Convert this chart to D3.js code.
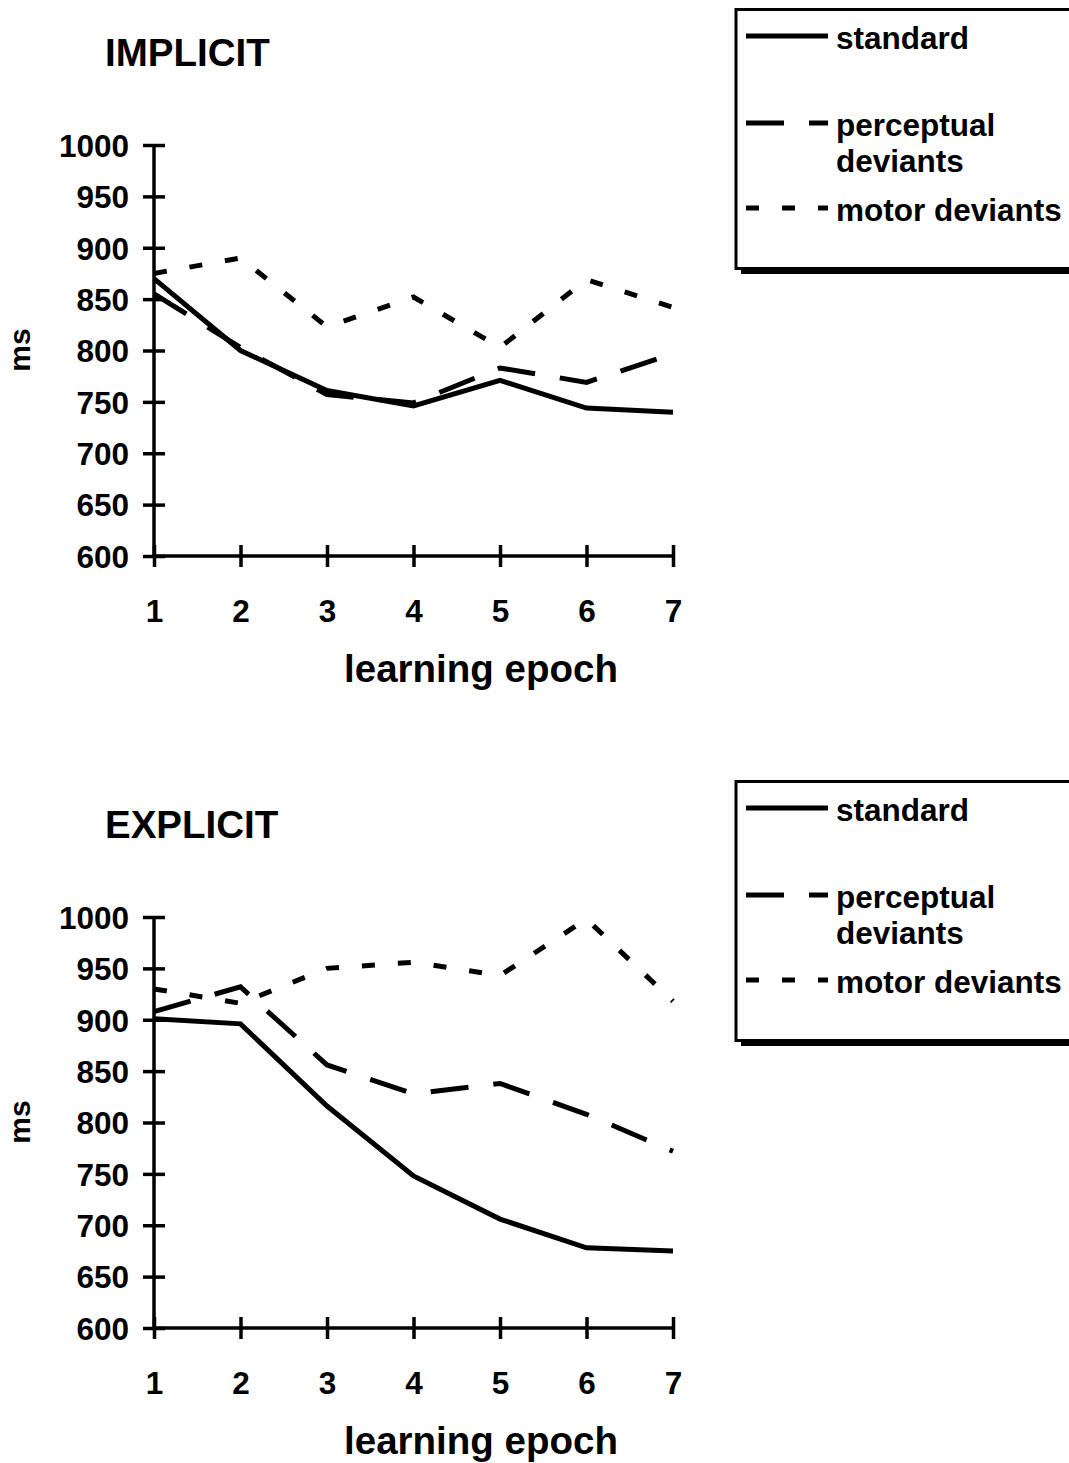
<!DOCTYPE html>
<html>
<head>
<meta charset="utf-8">
<script src="https://cdn.jsdelivr.net/npm/d3@7"></script>
<style>
  html, body { margin: 0; padding: 0; background: #fff; }
  svg { display: block; }
  text { font-family: "Liberation Sans", Arial, sans-serif; font-weight: bold; fill: #000; }
</style>
</head>
<body>
<svg id="chart" width="1069" height="1463"></svg>
<script>
// Learning epochs on the x axis
const epochs = [1, 2, 3, 4, 5, 6, 7];
const yTicks = [600, 650, 700, 750, 800, 850, 900, 950, 1000];

// Mean reaction times (ms), implicit condition
const implicitStandard   = [870, 800, 761, 746, 771, 744, 740];
const implicitPerceptual = [855, 803, 757, 749, 783, 769, 797];
const implicitMotor      = [875, 890, 823, 852, 803, 869, 842];

// Mean reaction times (ms), explicit condition
const explicitStandard   = [901, 896, 816, 748, 706, 678, 675];
const explicitPerceptual = [908, 932, 856, 828, 838, 808, 772];
const explicitMotor      = [930, 916, 950, 956, 943, 998, 918];

const seriesNames = ["standard", "perceptual deviants", "motor deviants"];

const svg = d3.select("#chart");

// Line styles per series: solid, long dash, short dash
const styles = [
  { dash: null },
  { dash: "38,25" },
  { dash: "13,23" }
];

function drawPanel(title, seriesValues, top) {
  const g = svg.append("g").attr("transform", `translate(0,${top})`);

  const x = d3.scaleLinear().domain([1, 7]).range([154, 673]);
  const y = d3.scaleLinear().domain([600, 1000]).range([556, 145]);

  // Title
  g.append("text").attr("x", 105).attr("y", 66)
    .style("font-size", "38.5px").text(title);

  // Y axis
  const yAxis = g.append("g").attr("transform", "translate(154,0)")
    .call(d3.axisLeft(y).tickValues(yTicks).tickSize(11).tickSizeOuter(0).tickFormat(d3.format("d")));
  yAxis.select(".domain").attr("stroke-width", 3.5).attr("d", `M0,${y(1000)}V${y(600)}`);
  yAxis.selectAll(".tick line").attr("x1", -11).attr("x2", 11).attr("stroke-width", 3.5);
  yAxis.selectAll(".tick text").attr("x", -25).attr("dy", "0.36em")
    .style("font-size", "31.5px").style("font-family", "'Liberation Sans', Arial, sans-serif").style("font-weight", "bold");

  // X axis
  const xAxis = g.append("g").attr("transform", `translate(0,${y(600)})`)
    .call(d3.axisBottom(x).tickValues(epochs).tickSize(11).tickSizeOuter(0).tickFormat(d3.format("d")));
  xAxis.select(".domain").attr("stroke-width", 3.5).attr("d", `M${x(1)},0H${x(7)}`);
  xAxis.selectAll(".tick line").attr("y1", -11).attr("y2", 11).attr("stroke-width", 3.5);
  xAxis.selectAll(".tick text").attr("y", 66).attr("dy", 0)
    .style("font-size", "31.5px").style("font-family", "'Liberation Sans', Arial, sans-serif").style("font-weight", "bold");

  // Axis titles
  g.append("text").attr("x", 481).attr("y", 682).attr("text-anchor", "middle")
    .style("font-size", "38.5px").text("learning epoch");
  g.append("text").attr("transform", "translate(30,350) rotate(-90)")
    .attr("text-anchor", "middle").style("font-size", "30px").text("ms");

  // Data lines
  const line = d3.line().x((d, i) => x(epochs[i])).y(d => y(d));
  seriesValues.forEach((vals, k) => {
    g.append("path").datum(vals)
      .attr("d", line)
      .attr("fill", "none")
      .attr("stroke", "#000")
      .attr("stroke-width", 5)
      .attr("stroke-linejoin", "miter")
      .attr("stroke-dasharray", styles[k].dash);
  });

  // Legend box with drop shadow
  const lg = g.append("g");
  lg.append("rect").attr("x", 741).attr("y", 14).attr("width", 400).attr("height", 260).attr("fill", "#000");
  lg.append("rect").attr("x", 736).attr("y", 9.5).attr("width", 400).attr("height", 259)
    .attr("fill", "#fff").attr("stroke", "#000").attr("stroke-width", 3);

  const legendRows = [
    { lineY: 36, lines: ["standard"], baseY: 49 },
    { lineY: 123, lines: ["perceptual", "deviants"], baseY: 136 },
    { lineY: 208, lines: ["motor deviants"], baseY: 221 }
  ];
  legendRows.forEach((r, k) => {
    lg.append("line").attr("x1", 746).attr("x2", 828)
      .attr("y1", r.lineY).attr("y2", r.lineY)
      .attr("stroke", "#000").attr("stroke-width", 5)
      .attr("stroke-dasharray", styles[k].dash);
    r.lines.forEach((t, j) => {
      lg.append("text").attr("x", 836).attr("y", r.baseY + j * 36)
        .style("font-size", "31.5px").text(t);
    });
  });
}

drawPanel("IMPLICIT", [implicitStandard, implicitPerceptual, implicitMotor], 0);
drawPanel("EXPLICIT", [explicitStandard, explicitPerceptual, explicitMotor], 772);
</script>
</body>
</html>
